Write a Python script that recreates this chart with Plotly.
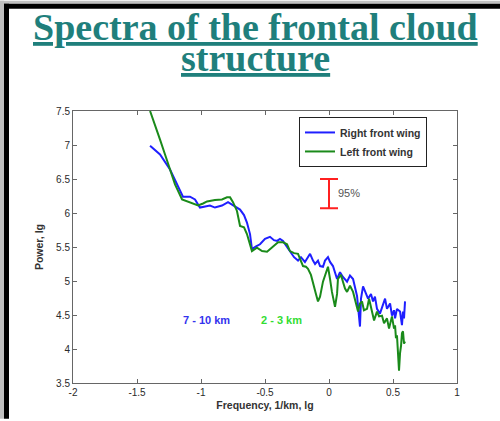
import plotly.graph_objects as go

# ---- data ----
right_x = [-1.398, -1.320, -1.242, -1.203, -1.180, -1.141, -1.086, -1.047, -1.008, -0.969,
           -0.930, -0.891, -0.836, -0.789, -0.742, -0.695, -0.664, -0.641, -0.617, -0.602,
           -0.570, -0.539, -0.500, -0.461, -0.430, -0.406, -0.383, -0.359, -0.328, -0.305,
           -0.273, -0.242, -0.219, -0.188, -0.164, -0.148, -0.125, -0.109, -0.086, -0.070,
           -0.047, -0.031, -0.008, 0.008, 0.031, 0.047, 0.063, 0.086, 0.109, 0.141,
           0.164, 0.188, 0.203, 0.219, 0.242, 0.250, 0.266, 0.289, 0.305, 0.328,
           0.344, 0.359, 0.375, 0.398, 0.422, 0.438, 0.453, 0.477, 0.492, 0.508,
           0.516, 0.531, 0.555, 0.563, 0.570, 0.578, 0.586, 0.594]
right_y = [6.99, 6.86, 6.64, 6.49, 6.39, 6.24, 6.24, 6.20, 6.08, 6.10,
           6.11, 6.08, 6.11, 6.16, 6.11, 6.05, 5.97, 5.86, 5.69, 5.47,
           5.51, 5.54, 5.62, 5.65, 5.60, 5.59, 5.62, 5.59, 5.50, 5.43,
           5.35, 5.30, 5.35, 5.28, 5.35, 5.40, 5.30, 5.25, 5.30, 5.22,
           5.21, 5.30, 5.35, 5.28, 5.22, 5.11, 5.03, 5.13, 5.06, 4.99,
           5.08, 5.03, 4.89, 4.78, 4.33, 4.74, 4.92, 4.81, 4.74, 4.81,
           4.70, 4.77, 4.59, 4.52, 4.67, 4.74, 4.59, 4.67, 4.49, 4.57,
           4.45, 4.59, 4.55, 4.42, 4.35, 4.55, 4.45, 4.70]

left_x = [-1.398, -1.359, -1.320, -1.281, -1.242, -1.203, -1.148, -1.086, -1.023, -0.984,
          -0.953, -0.891, -0.836, -0.797, -0.773, -0.750, -0.719, -0.695, -0.664, -0.641,
          -0.617, -0.602, -0.563, -0.523, -0.484, -0.445, -0.398, -0.359, -0.328, -0.305,
          -0.273, -0.242, -0.219, -0.203, -0.180, -0.164, -0.141, -0.125, -0.102, -0.086,
          -0.070, -0.047, -0.023, -0.008, 0.008, 0.023, 0.047, 0.063, 0.070, 0.094,
          0.109, 0.125, 0.141, 0.164, 0.188, 0.203, 0.227, 0.242, 0.258, 0.273,
          0.297, 0.313, 0.336, 0.352, 0.375, 0.391, 0.414, 0.430, 0.453, 0.469,
          0.492, 0.508, 0.516, 0.523, 0.531, 0.539, 0.547, 0.555, 0.563, 0.570,
          0.578, 0.586, 0.594]
left_y = [7.50, 7.30, 7.08, 6.86, 6.64, 6.42, 6.20, 6.16, 6.11, 6.14,
          6.17, 6.19, 6.20, 6.23, 6.23, 6.16, 6.03, 5.81, 5.79, 5.69,
          5.54, 5.44, 5.49, 5.44, 5.43, 5.50, 5.57, 5.57, 5.54, 5.44,
          5.41, 5.40, 5.30, 5.22, 5.21, 5.18, 5.09, 4.99, 4.81, 4.70,
          4.77, 4.99, 5.15, 5.21, 5.03, 4.84, 4.62, 4.81, 5.03, 5.09,
          4.99, 4.89, 4.84, 4.93, 4.84, 4.74, 4.55, 4.67, 4.70, 4.57,
          4.59, 4.74, 4.52, 4.42, 4.55, 4.48, 4.49, 4.38, 4.45, 4.30,
          4.48, 4.30, 4.35, 4.16, 4.20, 4.01, 3.68, 3.94, 4.05, 4.23,
          4.26, 4.08, 4.11]

series_names = ["Right front wing", "Left front wing"]
ci_x = [0.0]
ci_low, ci_high = 6.07, 6.50
x_ticks = [-2, -1.5, -1, -0.5, 0, 0.5, 1]
y_ticks = [3.5, 4, 4.5, 5, 5.5, 6, 6.5, 7, 7.5]

W, H = 500, 421
L, R, T, B = 73, 43, 111, 36
pw, ph = W - L - R, H - T - B


def px(xp):
    return (xp - L) / pw


def py(yp):
    return (H - B - yp) / ph


SANS = "Liberation Sans, Arial, sans-serif"

fig = go.Figure()
fig.add_trace(go.Scatter(x=right_x, y=right_y, mode="lines", name=series_names[0],
                         line=dict(color="#1f1fff", width=2)))
fig.add_trace(go.Scatter(x=left_x, y=left_y, mode="lines", name=series_names[1],
                         line=dict(color="#1a8a1a", width=2)))
mid = (ci_low + ci_high) / 2
fig.add_trace(go.Scatter(x=ci_x, y=[mid], mode="markers", showlegend=False,
                         marker=dict(size=1, color="rgba(0,0,0,0)"),
                         error_y=dict(type="data", array=[ci_high - mid], color="#ff2020",
                                      thickness=2, width=9),
                         hoverinfo="skip"))

axis_common = dict(showline=True, linecolor="#666666", linewidth=1, mirror="ticks",
                   ticks="inside", ticklen=4, tickcolor="#666666", showgrid=False,
                   zeroline=False, tickfont=dict(family=SANS, size=10, color="#2a2a2a"))

fig.update_xaxes(range=[-2, 1], tickvals=x_ticks, ticktext=[str(v) for v in x_ticks],
                 title=dict(text="<b>Frequency, 1/km, lg</b>", standoff=4,
                            font=dict(family=SANS, size=10.5, color="#333333")),
                 **axis_common)
fig.update_yaxes(range=[3.5, 7.5], tickvals=y_ticks, ticktext=[f"{v:g}" for v in y_ticks],
                 title=dict(text="<b>Power, lg</b>", standoff=10,
                            font=dict(family=SANS, size=10.5, color="#333333")),
                 **axis_common)

title_font = dict(family="Liberation Serif, Times New Roman, serif", size=38,
                  color="#1f7f7c", weight="bold", lineposition="under")

annotations = [
    dict(text="Spectra of the frontal cloud", x=px(255), y=py(26), xref="paper", yref="paper",
         showarrow=False, xanchor="center", yanchor="middle", font=title_font),
    dict(text="structure", x=px(255), y=py(58), xref="paper", yref="paper",
         showarrow=False, xanchor="center", yanchor="middle", font=title_font),
    dict(text="95%", x=0.156, y=6.29, xref="x", yref="y", showarrow=False,
         font=dict(family=SANS, size=11, color="#555555")),
    dict(text="<b>7 - 10 km</b>", x=-0.96, y=4.42, xref="x", yref="y", showarrow=False,
         font=dict(family=SANS, size=11, color="#3333ee")),
    dict(text="<b>2 - 3 km</b>", x=-0.375, y=4.42, xref="x", yref="y", showarrow=False,
         font=dict(family=SANS, size=11, color="#33dd33")),
]

shapes = [
    dict(type="rect", xref="paper", yref="paper", x0=px(0), x1=px(4), y0=py(H), y1=py(0),
         fillcolor="#c0c0c0", line=dict(width=0)),
    dict(type="rect", xref="paper", yref="paper", x0=px(0), x1=px(W), y0=py(3), y1=py(0),
         fillcolor="#c0c0c0", line=dict(width=0)),
    dict(type="rect", xref="paper", yref="paper", x0=px(4), x1=px(9), y0=py(H), y1=py(3),
         fillcolor="#000000", line=dict(width=0)),
    dict(type="rect", xref="paper", yref="paper", x0=px(4), x1=px(W), y0=py(8), y1=py(3),
         fillcolor="#000000", line=dict(width=0)),
]

fig.update_layout(
    width=W, height=H,
    margin=dict(l=L, r=R, t=T, b=B),
    paper_bgcolor="white", plot_bgcolor="white",
    annotations=annotations, shapes=shapes,
    legend=dict(x=px(427), xanchor="right", y=py(117), yanchor="top",
                bgcolor="white", bordercolor="#222222", borderwidth=1,
                font=dict(family=SANS, size=10.5, color="#333333", weight="bold"),
                tracegroupgap=0, itemwidth=30),
    showlegend=True,
)

fig.write_html("out.html")
